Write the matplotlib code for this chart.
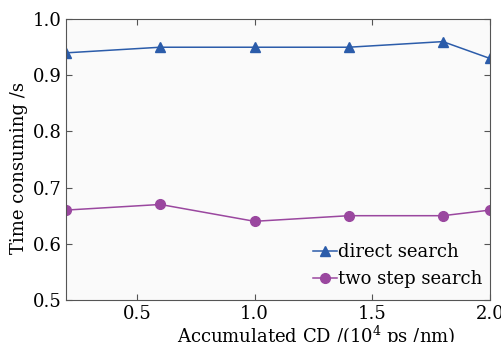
import matplotlib
matplotlib.use("Agg")
import matplotlib.pyplot as plt

cd = [0.2, 0.6, 1.0, 1.4, 1.8, 2.0]
direct_search = [0.94, 0.95, 0.95, 0.95, 0.96, 0.93]
two_step_search = [0.66, 0.67, 0.64, 0.65, 0.65, 0.66]

plt.rcParams['font.family'] = ['DejaVu Serif']
plt.rcParams['mathtext.fontset'] = 'dejavuserif'

fig = plt.figure(figsize=(5.01, 3.42), dpi=100)
ax = fig.add_axes([0.132, 0.123, 0.846, 0.821])
ax.set_facecolor('#fafafa')
fig.patch.set_facecolor('white')

ax.plot(cd, direct_search, color='#2b5caa', marker='^', markersize=7, lw=1.1, label='direct search')
ax.plot(cd, two_step_search, color='#9a479f', marker='o', markersize=7, lw=1.1, label='two step search')

ax.set_xlim(0.2, 2.0)
ax.set_ylim(0.5, 1.0)
ax.set_xticks([0.5, 1.0, 1.5, 2.0])
ax.set_yticks([0.5, 0.6, 0.7, 0.8, 0.9, 1.0])
ax.tick_params(direction='in', labelsize=13, top=True, right=True, length=4, color='#555555')
for s in ax.spines.values():
    s.set_color('#555555')

ax.set_xlabel('Accumulated CD /(10$^4$ ps /nm)', fontsize=13)
ax.set_ylabel('Time consuming /s', fontsize=13)
ax.xaxis.set_label_coords(0.59, -0.085)
ax.yaxis.set_label_coords(-0.09, 0.47)

ax.legend(loc='lower right', frameon=False, fontsize=13, handlelength=1.3,
          handletextpad=0.1, labelspacing=0.5, borderaxespad=0.0,
          bbox_to_anchor=(1.0, 0.017))

fig.savefig('out.png', dpi=100)
